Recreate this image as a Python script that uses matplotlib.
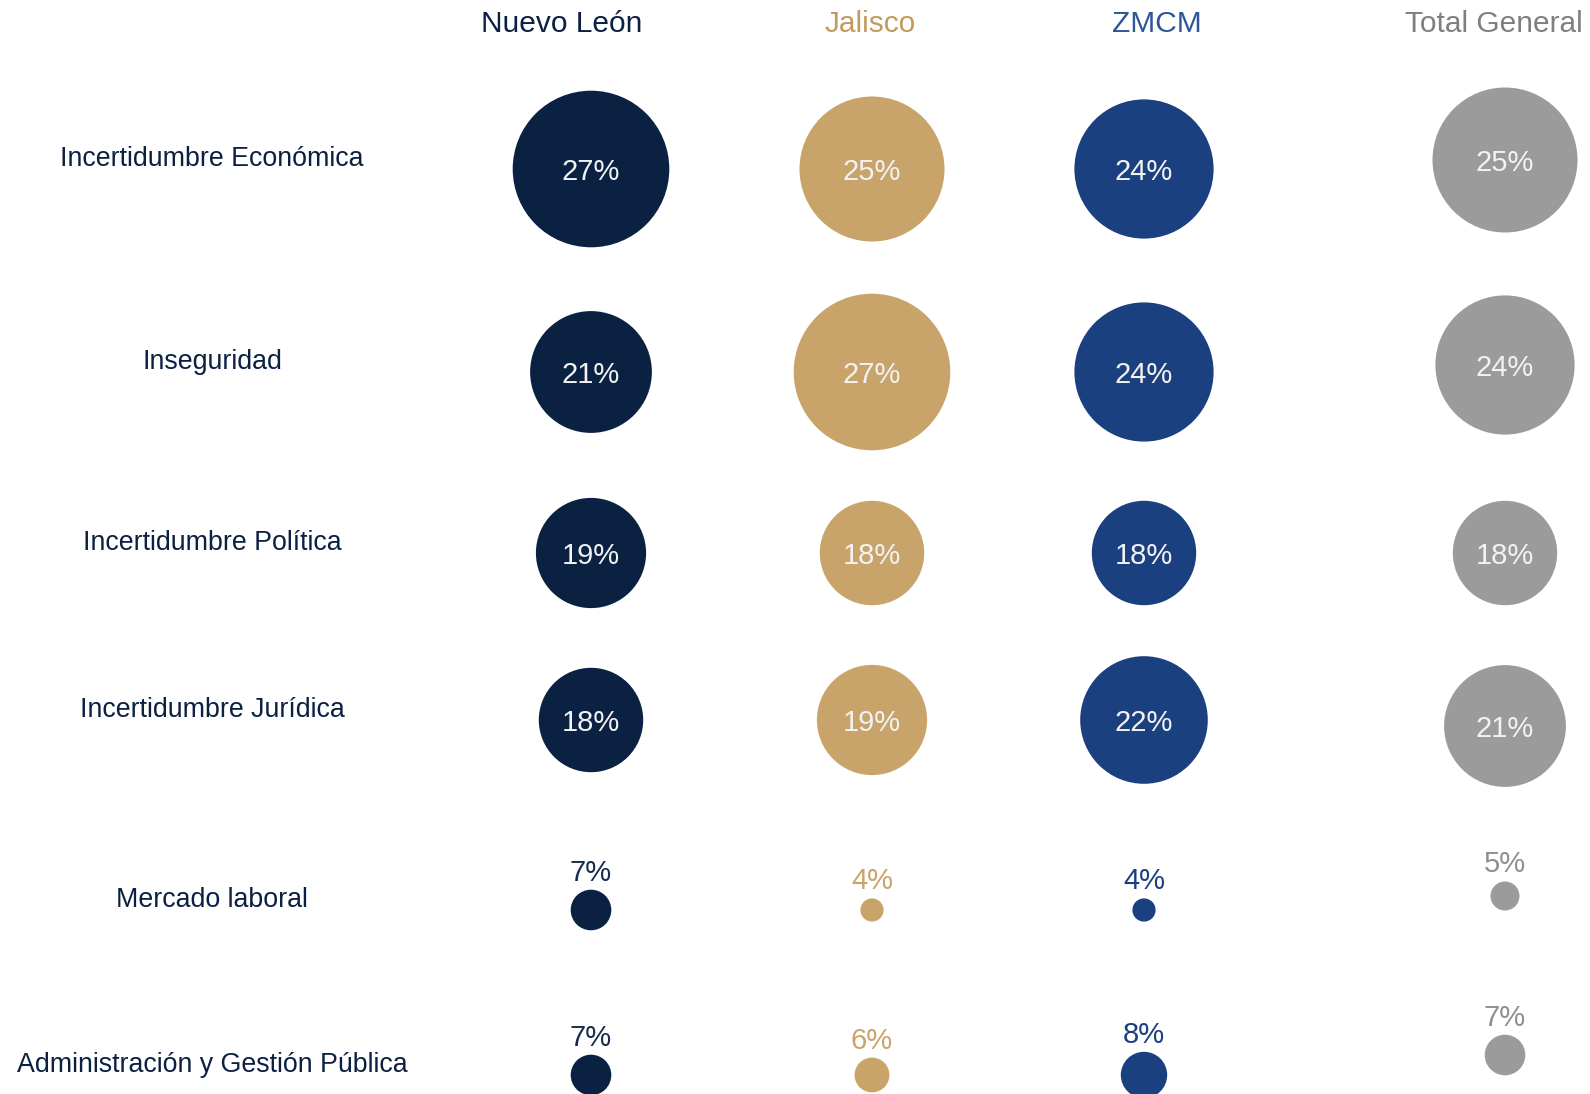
import matplotlib.pyplot as plt

# data (percent of mentions)
regions = ['Nuevo León', 'Jalisco', 'ZMCM', 'Total General']
factors = ['Incertidumbre Económica', 'Inseguridad', 'Incertidumbre Política',
           'Incertidumbre Jurídica', 'Mercado laboral',
           'Administración y Gestión Pública']
nuevo_leon = [27, 21, 19, 18, 7, 7]
jalisco = [25, 27, 18, 19, 4, 6]
zmcm = [24, 24, 18, 22, 4, 8]
total_general = [25, 24, 18, 21, 5, 7]

# layout (pixel units of the 1590x1094 canvas)
col_x = [591, 872, 1144, 1505]
header_x = [562, 870, 1157, 1494]
row_y = [169, 372, 553, 720, 910, 1075]
col_dy = [[0] * 6, [0] * 6, [0] * 6, [-9, -7, 0, 6, -14, -20]]
label_x = 212
px_per_pct = 2.9

bubble_colors = ['#0A2142', '#C8A46B', '#1B4080', '#9B9B9B']
header_colors = ['#0B2042', '#C39A5E', '#2F5597', '#7F7F7F']
small_colors = ['#1A2C4E', '#C8A46B', '#1B4080', '#8F8F8F']

plt.rcParams['font.family'] = ['Liberation Sans', 'DejaVu Sans']

fig = plt.figure(figsize=(15.9, 10.94), dpi=100)
ax = fig.add_axes([0, 0, 1, 1])
ax.set_xlim(0, 1590)
ax.set_ylim(1094, 0)
ax.axis('off')

series = [nuevo_leon, jalisco, zmcm, total_general]
for j, vals in enumerate(series):
    ax.text(header_x[j], 24, regions[j], ha='center', va='center',
            fontsize=21.5, color=header_colors[j])
    for i, v in enumerate(vals):
        cx = col_x[j]
        cy = row_y[i] + col_dy[j][i]
        r = px_per_pct * v
        ax.scatter([cx], [cy], s=(2 * r * 0.72) ** 2, color=bubble_colors[j],
                   edgecolors='none', zorder=2)
        if v >= 10:
            # label sits a touch below the centre, like the original
            ax.text(cx, cy + 3, f'{v}%', ha='center', va='center', fontsize=21,
                    color='#F2F2F2', zorder=3)
        else:
            ax.annotate(f'{v}%', (cx, cy), xytext=(0, (r + 9) * 0.72),
                        textcoords='offset points', ha='center',
                        va='baseline', fontsize=21, color=small_colors[j])

for i, name in enumerate(factors):
    ax.text(label_x, row_y[i] - 10, name, ha='center', va='center',
            fontsize=19.3, color='#0B2042')

fig.savefig('out.png', dpi=100)
